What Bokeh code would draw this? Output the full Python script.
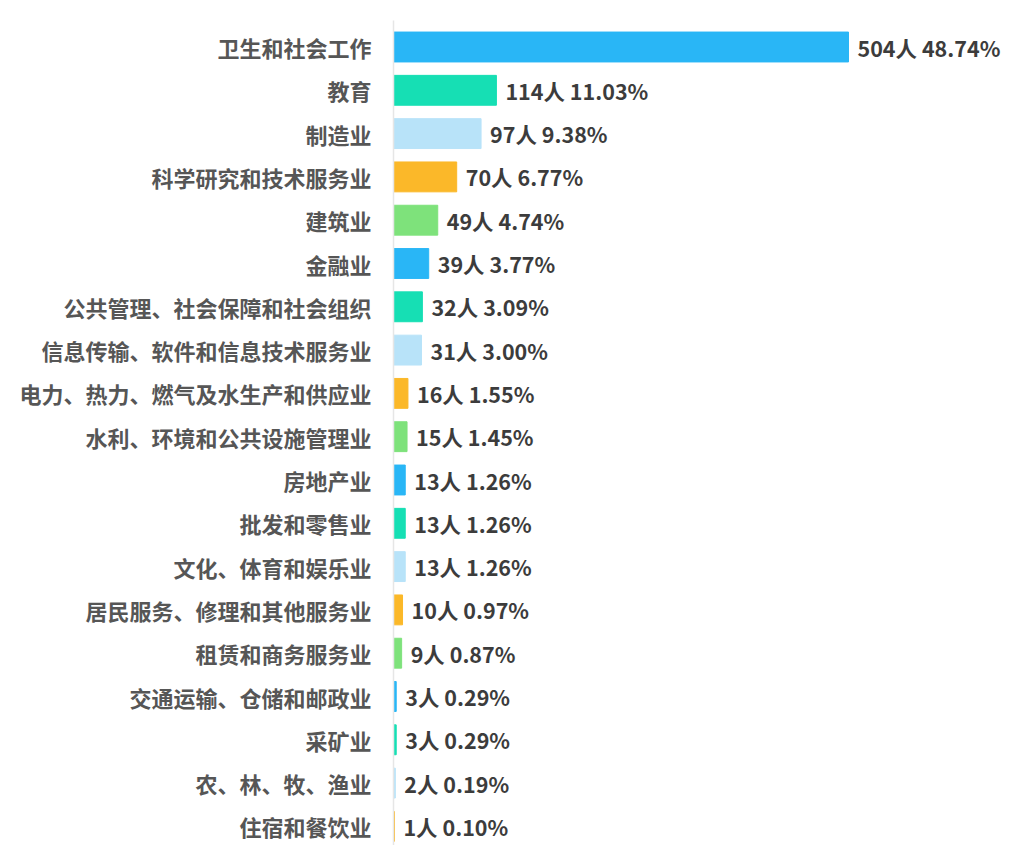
from bokeh.plotting import figure
from bokeh.models import Range1d, FixedTicker, ColumnDataSource
from bokeh.core.properties import value
from bokeh.embed import file_html
from bokeh.resources import INLINE

categories = ["卫生和社会工作", "教育", "制造业", "科学研究和技术服务业", "建筑业", "金融业",
              "公共管理、社会保障和社会组织", "信息传输、软件和信息技术服务业",
              "电力、热力、燃气及水生产和供应业", "水利、环境和公共设施管理业", "房地产业",
              "批发和零售业", "文化、体育和娱乐业", "居民服务、修理和其他服务业",
              "租赁和商务服务业", "交通运输、仓储和邮政业", "采矿业", "农、林、牧、渔业", "住宿和餐饮业"]
counts = [504, 114, 97, 70, 49, 39, 32, 31, 16, 15, 13, 13, 13, 10, 9, 3, 3, 2, 1]
percents = [48.74, 11.03, 9.38, 6.77, 4.74, 3.77, 3.09, 3.00, 1.55, 1.45, 1.26, 1.26, 1.26,
            0.97, 0.87, 0.29, 0.29, 0.19, 0.10]
palette = ["#29B6F6", "#16DFB4", "#B8E3F9", "#FBB829", "#7EE27B"]

rows = list(range(len(categories)))
colors = [palette[i % len(palette)] for i in rows]
labels = [f"{c}人 {p:.2f}%" for c, p in zip(counts, percents)]

src = ColumnDataSource(dict(y=rows, cnt=counts, color=colors, label=labels))

FONT = "Noto Sans CJK SC"
W, H = 1001, 845
left = 393
top = 20
spacing = 43.3
first_center = 46.5
px_per_unit = 455 / 504

y_top = (top - first_center) / spacing
y_bot = (H - first_center) / spacing
x_end = (W - left) / px_per_unit

p = figure(width=W, height=H, output_backend="svg", toolbar_location=None,
           x_range=Range1d(0, x_end), y_range=Range1d(y_bot, y_top),
           min_border_left=left, min_border_right=0, min_border_top=top, min_border_bottom=0)
p.outline_line_color = None
p.grid.visible = False
p.xaxis.visible = False
p.background_fill_color = "white"
p.border_fill_color = "white"

p.hbar(y="y", left=0, right="cnt", height=0.69, color="color", source=src)
p.text(x="cnt", y="y", text="label", x_offset=9, text_baseline="middle", text_align="left",
       text_font=value(FONT), text_font_style="bold", text_font_size="21.5px",
       text_color="#3C3C3C", source=src)

ya = p.yaxis[0]
ya.ticker = FixedTicker(ticks=rows)
ya.major_label_overrides = {i: c for i, c in enumerate(categories)}
ya.major_tick_line_color = None
ya.minor_tick_line_color = None
ya.axis_line_color = "#E6E6E6"
ya.axis_line_width = 1.5
ya.major_label_standoff = 16
ya.major_label_text_font = FONT
ya.major_label_text_font_style = "bold"
ya.major_label_text_font_size = "22px"
ya.major_label_text_color = "#565656"

open("out.html", "w").write(file_html(p, INLINE))
